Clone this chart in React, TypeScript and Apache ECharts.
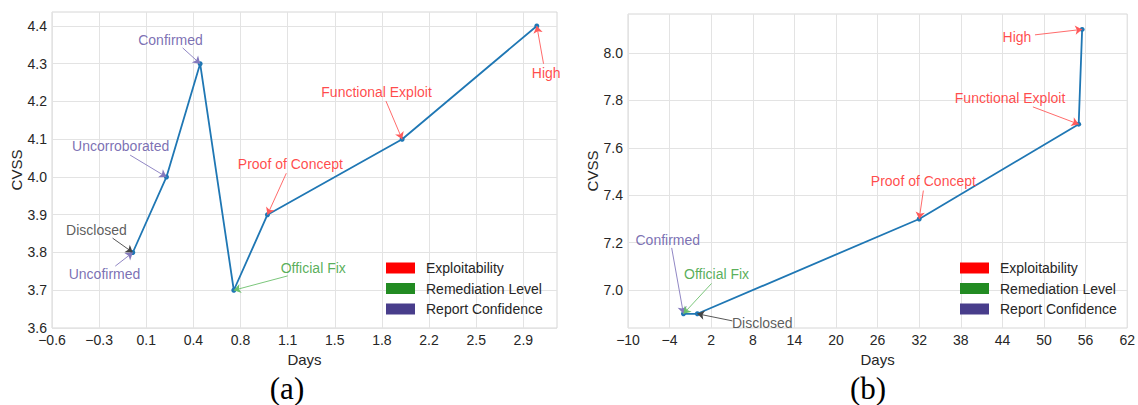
import React, { useEffect, useRef } from 'react';
import * as echarts from 'echarts';

// ---- data: chart (a)
const daysA = [0, 0.25, 0.5, 0.75, 1, 2, 3];
const cvssA = [3.8, 4.0, 4.3, 3.7, 3.9, 4.1, 4.4];
// ---- data: chart (b)
const daysB = [-2, 0, 32, 55, 55.5];
const cvssB = [6.9, 6.9, 7.3, 7.7, 8.1];

// ---- ticks
const xTicksA = [-0.6, -0.25, 0.1, 0.45, 0.8, 1.15, 1.5, 1.85, 2.2, 2.55, 2.9];
const xTickLabelsA = ['\u22120.6', '\u22120.3', '0.1', '0.4', '0.8', '1.1', '1.5', '1.8', '2.2', '2.5', '2.9'];
const yTicksA = [3.6, 3.7, 3.8, 3.9, 4.0, 4.1, 4.2, 4.3, 4.4];
const yTickLabelsA = ['3.6', '3.7', '3.8', '3.9', '4.0', '4.1', '4.2', '4.3', '4.4'];
const xTicksB = [-10, -4, 2, 8, 14, 20, 26, 32, 38, 44, 50, 56, 62];
const xTickLabelsB = ['\u221210', '\u22124', '2', '8', '14', '20', '26', '32', '38', '44', '50', '56', '62'];
const yTicksB = [7.0, 7.2, 7.4, 7.6, 7.8, 8.0];
const yTickLabelsB = ['7.0', '7.2', '7.4', '7.6', '7.8', '8.0'];

// ---- legend
const legendNames = ['Exploitability', 'Remediation Level', 'Report Confidence'];
const legendColors = ['#ff0000', '#228b22', '#483d8b'];

// ---- annotations (text position and arrow start in data units; arrow ends at data point index)
const annotationsA = [
  { text: 'Confirmed', at: 2, tx: 0.28, ty: 4.363, ax: 0.37, ay: 4.342, kind: 'rc' },
  { text: 'Uncorroborated', at: 1, tx: -0.09, ty: 4.082, ax: -0.02, ay: 4.058, kind: 'rc' },
  { text: 'Disclosed', at: 0, tx: -0.27, ty: 3.86, ax: -0.15, ay: 3.838, kind: 'd' },
  { text: 'Uncofirmed', at: 0, tx: -0.21, ty: 3.743, ax: -0.13, ay: 3.764, kind: 'rc' },
  { text: 'Official Fix', at: 3, tx: 1.34, ty: 3.759, ax: 1.15, ay: 3.738, kind: 'rl' },
  { text: 'Proof of Concept', at: 4, tx: 1.17, ty: 4.034, ax: 1.14, ay: 4.01, kind: 'ex' },
  { text: 'Functional Exploit', at: 5, tx: 1.81, ty: 4.225, ax: 1.88, ay: 4.201, kind: 'ex' },
  { text: 'High', at: 6, tx: 3.07, ty: 4.275, ax: 3.05, ay: 4.3, kind: 'ex' },
];
const annotationsB = [
  { text: 'High', at: 4, tx: 46.1, ty: 8.068, ax: 48.7, ay: 8.077, kind: 'ex' },
  { text: 'Functional Exploit', at: 3, tx: 45.1, ty: 7.812, ax: 48.4, ay: 7.773, kind: 'ex' },
  { text: 'Proof of Concept', at: 2, tx: 32.6, ty: 7.46, ax: 32.6, ay: 7.42, kind: 'ex' },
  { text: 'Confirmed', at: 0, tx: -4.26, ty: 7.212, ax: -3.7, ay: 7.178, kind: 'rc' },
  { text: 'Official Fix', at: 0, tx: 2.77, ty: 7.066, ax: 2.05, ay: 7.028, kind: 'rl' },
  { text: 'Disclosed', at: 1, tx: 9.37, ty: 6.861, ax: 5.06, ay: 6.87, kind: 'd' },
];

const textColor: Record<string, string> = { rc: '#5a4c9f', ex: '#ff1a1a', rl: '#2f9a2f', d: '#333333' };
const arrowColor: Record<string, string> = { rc: '#8479bd', ex: '#ff5a5a', rl: '#6cc06c', d: '#444444' };

const FONT = '"Liberation Sans", Arial, Helvetica, sans-serif';
const INK = '#262626';
const GRID = '#e3e3e3';

function labelFor(v: number, ticks: number[], labels: string[]) {
  for (let i = 0; i < ticks.length; i++) if (Math.abs(ticks[i] - v) < 1e-6) return labels[i];
  return '';
}

function xAxisDef(gi: number, min: number, max: number, ticks: number[], labels: string[]) {
  return {
    gridIndex: gi, type: 'value', min, max,
    axisLine: { show: false },
    axisTick: { show: false, customValues: ticks },
    axisLabel: { customValues: ticks, formatter: (v: number) => labelFor(v, ticks, labels), color: INK, fontSize: 14, margin: 5, fontFamily: FONT },
    splitLine: { show: true, lineStyle: { color: GRID, width: 1 } },
    name: 'Days', nameLocation: 'middle', nameGap: 20,
    nameTextStyle: { fontSize: 15, color: INK, fontFamily: FONT },
  };
}
function yAxisDef(gi: number, min: number, max: number, ticks: number[], labels: string[], gap: number) {
  return {
    gridIndex: gi, type: 'value', min, max,
    axisLine: { show: false },
    axisTick: { show: false, customValues: ticks },
    axisLabel: { customValues: ticks, formatter: (v: number) => labelFor(v, ticks, labels), color: INK, fontSize: 14, margin: 5, fontFamily: FONT },
    splitLine: { show: true, lineStyle: { color: GRID, width: 1 } },
    name: 'CVSS', nameLocation: 'middle', nameGap: gap,
    nameTextStyle: { fontSize: 15, color: INK, fontFamily: FONT },
  };
}

function lineSeries(idx: number, xs: number[], ys: number[]) {
  return {
    type: 'line', xAxisIndex: idx, yAxisIndex: idx,
    data: xs.map((x, i) => [x, ys[i]]),
    symbol: 'circle', symbolSize: 5, showSymbol: true,
    itemStyle: { color: '#1f77b4' },
    lineStyle: { color: '#1f77b4', width: 1.8 },
    silent: true, z: 3,
  };
}

function annSeries(idx: number, anns: any[], xs: number[], ys: number[]) {
  return {
    type: 'scatter', xAxisIndex: idx, yAxisIndex: idx, silent: true,
    symbolSize: 1, itemStyle: { color: 'rgba(0,0,0,0)' },
    data: anns.map((a) => ({
      value: [a.tx, a.ty],
      label: { show: true, position: 'inside', formatter: a.text, color: textColor[a.kind], fontSize: 14, fontFamily: FONT },
    })),
    markLine: {
      silent: true, symbol: ['none', 'arrow'], symbolSize: 7, animation: false,
      label: { show: false },
      data: anns.map((a) => [
        { coord: [a.ax, a.ay], lineStyle: { color: arrowColor[a.kind], width: 0.9, type: 'solid' } },
        { coord: [xs[a.at], ys[a.at]] },
      ]),
    },
    z: 4,
  };
}

export default function App() {
  const ref = useRef<HTMLDivElement>(null);
  useEffect(() => {
    if (!ref.current) return;
    const chart = echarts.init(ref.current, undefined, { renderer: 'svg' });
    const legendBase = {
      orient: 'vertical', icon: 'rect', itemWidth: 29, itemHeight: 11, itemGap: 6.5,
      data: legendNames, selectedMode: false,
      textStyle: { fontSize: 14, color: INK, fontFamily: FONT, padding: [0, 0, 0, 6] },
    };
    const serif = '"Liberation Serif", "Times New Roman", serif';
    const option: any = {
      animation: false,
      backgroundColor: '#ffffff',
      grid: [
        { left: 52, top: 12, width: 505, height: 316, show: true, borderColor: '#d6d6d6', borderWidth: 1, containLabel: false },
        { left: 628, top: 14, width: 502, height: 314, show: true, borderColor: '#d6d6d6', borderWidth: 1, containLabel: false },
      ],
      xAxis: [
        xAxisDef(0, -0.6, 3.15, xTicksA, xTickLabelsA),
        xAxisDef(1, -10, 62, xTicksB, xTickLabelsB),
      ],
      yAxis: [
        yAxisDef(0, 3.6, 4.437, yTicksA, yTickLabelsA, 26),
        yAxisDef(1, 6.84, 8.165, yTicksB, yTickLabelsB, 23),
      ],
      legend: [
        { ...legendBase, left: 381, top: 256 },
        { ...legendBase, left: 955, top: 256 },
      ],
      series: [
        lineSeries(0, daysA, cvssA),
        lineSeries(1, daysB, cvssB),
        annSeries(0, annotationsA, daysA, cvssA),
        annSeries(1, annotationsB, daysB, cvssB),
        ...legendNames.map((n, i) => ({
          name: n, type: 'line', xAxisIndex: 0, yAxisIndex: 0, data: [],
          itemStyle: { color: legendColors[i] }, lineStyle: { color: legendColors[i] },
        })),
      ],
      graphic: [
        { type: 'text', x: 287, y: 388, style: { text: '(a)', fontSize: 31, fontFamily: serif, fill: '#000', align: 'center', verticalAlign: 'middle' } },
        { type: 'text', x: 868, y: 388, style: { text: '(b)', fontSize: 31, fontFamily: serif, fill: '#000', align: 'center', verticalAlign: 'middle' } },
      ],
    };
    chart.setOption(option);
    return () => chart.dispose();
  }, []);
  return <div ref={ref} style={{ position: 'fixed', left: 0, top: 0, width: 1138, height: 405 }} />;
}
